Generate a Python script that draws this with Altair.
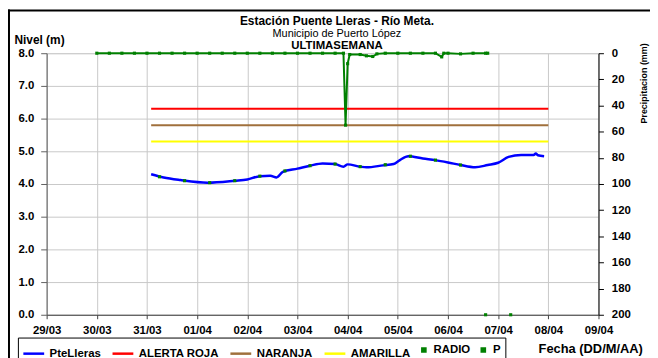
import altair as alt
import pandas as pd

# ---------------- data ----------------
SERIES = ["PteLleras", "ALERTA ROJA", "NARANJA", "AMARILLA", "RADIO", "P"]
COLORS = ["#0000ff", "#ff0000", "#a0703c", "#ffff00", "#008000", "#008000"]
SHAPES = ["stroke", "stroke", "stroke", "stroke", "square", "square"]
SIZES = [441, 441, 441, 441, 10, 10]

LEVEL_T = ["2012-03-31T02:00", "2012-03-31T08:00", "2012-03-31T16:00", "2012-04-01T05:00",
           "2012-04-01T18:00", "2012-04-02T00:00", "2012-04-02T06:00", "2012-04-02T11:00",
           "2012-04-02T14:00", "2012-04-02T17:00", "2012-04-03T00:00", "2012-04-03T06:00",
           "2012-04-03T12:00", "2012-04-03T18:00", "2012-04-03T22:00", "2012-04-04T00:00",
           "2012-04-04T06:00", "2012-04-04T09:00", "2012-04-04T17:00", "2012-04-04T22:00",
           "2012-04-05T01:00", "2012-04-05T05:00", "2012-04-05T12:00", "2012-04-05T18:00",
           "2012-04-06T00:00", "2012-04-06T06:00", "2012-04-06T13:00", "2012-04-06T19:00",
           "2012-04-07T00:00", "2012-04-07T05:00", "2012-04-07T11:00", "2012-04-07T17:00",
           "2012-04-07T18:00", "2012-04-07T19:00", "2012-04-07T22:00"]
LEVEL_V = [4.30, 4.20, 4.12, 4.04, 4.10, 4.14, 4.24, 4.25, 4.20, 4.37, 4.47, 4.56, 4.63,
           4.61, 4.53, 4.60, 4.53, 4.51, 4.57, 4.61, 4.73, 4.85, 4.78, 4.73, 4.66, 4.58,
           4.51, 4.58, 4.65, 4.83, 4.89, 4.89, 4.93, 4.88, 4.85]

RADIO_T = ["2012-03-31T06:00", "2012-03-31T18:00", "2012-04-01T06:00", "2012-04-01T18:00",
           "2012-04-02T06:00", "2012-04-02T18:00", "2012-04-03T06:00", "2012-04-03T18:00",
           "2012-04-04T06:00", "2012-04-04T18:00", "2012-04-05T06:00", "2012-04-05T18:00",
           "2012-04-06T06:00", "2012-04-06T18:00", "2012-04-07T06:00"]
RADIO_V = [4.22, 4.10, 4.04, 4.10, 4.24, 4.40, 4.56, 4.61, 4.53, 4.59, 4.85, 4.73, 4.58, 0.0, 0.0]

P_T = ["2012-03-30T00:00", "2012-03-30T06:00", "2012-03-30T12:00", "2012-03-30T18:00",
       "2012-03-31T00:00", "2012-03-31T06:00", "2012-03-31T12:00", "2012-03-31T18:00",
       "2012-04-01T00:00", "2012-04-01T06:00", "2012-04-01T12:00", "2012-04-01T18:00",
       "2012-04-02T00:00", "2012-04-02T06:00", "2012-04-02T12:00", "2012-04-02T18:00",
       "2012-04-03T00:00", "2012-04-03T06:00", "2012-04-03T12:00", "2012-04-03T18:00",
       "2012-04-03T22:00", "2012-04-03T23:00", "2012-04-04T00:00", "2012-04-04T01:00",
       "2012-04-04T06:00", "2012-04-04T09:00", "2012-04-04T12:00", "2012-04-04T14:00",
       "2012-04-04T18:00", "2012-04-05T00:00", "2012-04-05T06:00", "2012-04-05T12:00",
       "2012-04-05T18:00", "2012-04-05T21:00", "2012-04-05T22:00", "2012-04-06T00:00",
       "2012-04-06T06:00", "2012-04-06T12:00", "2012-04-06T18:00", "2012-04-06T19:00"]
P_V = [0, 0, 0, 0, 0, 0, 0, 0, 0, 0, 0, 0, 0, 0, 0, 0, 0, 0, 0, 0,
       0, 55, 8, 1, 1, 2, 2.5, 0.5, 0, 0, 0, 0, 0, 2.8, 0, 0, 0.5, 0, 0, 0]

THR_NAMES = ["ALERTA ROJA", "NARANJA", "AMARILLA"]
THR_V = [6.3, 5.8, 5.3]
THR_T = ["2012-03-31T02:00", "2012-04-08T00:00"]

TICK_DAYS = [(3, 29), (3, 30), (3, 31), (4, 1), (4, 2), (4, 3), (4, 4), (4, 5),
             (4, 6), (4, 7), (4, 8), (4, 9)]
LEVEL_TICKS = [0, 1, 2, 3, 4, 5, 6, 7, 8]
P_TICKS = [0, 20, 40, 60, 80, 100, 120, 140, 160, 180, 200]

TITLE_1 = "Estación Puente Lleras - Río Meta."
TITLE_2 = "Municipio de Puerto López"
TITLE_3 = "ULTIMASEMANA"

# ---------------- tables ----------------
level_df = pd.DataFrame({"t": LEVEL_T, "v": LEVEL_V, "s": "PteLleras"})
radio_df = pd.DataFrame({"t": RADIO_T, "v": RADIO_V, "s": "RADIO"})
p_df = pd.DataFrame({"t": P_T, "p": P_V, "s": "P"})
thr_rows = []
for name, val in zip(THR_NAMES, THR_V):
    for t in THR_T:
        thr_rows.append({"t": t, "v": val, "s": name})
thr_df = pd.DataFrame(thr_rows)

FONT = "Liberation Sans"
W, H = 557, 264

legend = alt.Legend(
    title=None, orient="none", legendX=-29, legendY=287, direction="horizontal",
    strokeColor="black", fillColor="white", padding=4,
    symbolStrokeWidth=2.5, labelFontSize=11.5, labelFontWeight="bold", labelFont=FONT,
    columnPadding=6, labelOffset=4, labelColor="black", symbolOpacity=1,
)
color = alt.Color("s:N", scale=alt.Scale(domain=SERIES, range=COLORS), legend=legend)
shape = alt.Shape("s:N", scale=alt.Scale(domain=SERIES, range=SHAPES), legend=legend)
size = alt.Size("s:N", scale=alt.Scale(type="ordinal", domain=SERIES, range=SIZES),
                legend=legend)

x = alt.X(
    "t:T",
    scale=alt.Scale(domain=[alt.DateTime(year=2012, month=3, date=29),
                            alt.DateTime(year=2012, month=4, date=9)]),
    axis=alt.Axis(
        values=[alt.DateTime(year=2012, month=m, date=d) for m, d in TICK_DAYS],
        format="%d/%m", labelFontWeight="bold", labelFontSize=11.5, labelFont=FONT,
        labelColor="black", tickSize=4, labelPadding=6, tickColor="#404040",
        domainColor="#404040", grid=True, gridColor="#c8c8c8",
        title="Fecha (DD/M/AA)", titleFontSize=13, titleFontWeight="bold",
        titleFont=FONT, titleColor="black", titleAnchor="start", titleAlign="left",
        titleX=496, titleY=34, titleBaseline="middle", labelFlush=False,
    ),
)
y_level = alt.Y(
    "v:Q",
    scale=alt.Scale(domain=[0, 8], nice=False),
    axis=alt.Axis(
        values=LEVEL_TICKS, format=".1f", labelFontWeight="bold", labelFontSize=11.5,
        labelFont=FONT, labelColor="black", tickSize=6, labelPadding=7,
        tickColor="#606060", domainColor="#606060", grid=True, gridColor="#c8c8c8",
        title="Nivel (m)", titleAngle=0, titleAlign="left", titleX=-33, titleY=-10,
        titleBaseline="alphabetic", titleFontWeight="bold", titleFontSize=12,
        titleFont=FONT, titleColor="black", labelFlush=False,
    ),
)
y_p = alt.Y(
    "p:Q",
    scale=alt.Scale(domain=[0, 200], reverse=True, nice=False),
    axis=alt.Axis(
        orient="right", values=P_TICKS, labelFontWeight="bold", labelFontSize=11.5,
        labelFont=FONT, labelColor="black", tickSize=5, labelPadding=8,
        tickColor="black", domainColor="black", grid=False,
        title="Precipitacion (mm)", titleAngle=270, titleX=45, titleY=30,
        titleAlign="center", titleBaseline="middle", titleFontSize=9,
        titleFontWeight="bold", titleFont=FONT, titleColor="black", labelFlush=False,
    ),
)

thr = alt.Chart(thr_df).mark_line(strokeWidth=2).encode(x=x, y=y_level, color=color)
lvl = alt.Chart(level_df).mark_line(strokeWidth=2.5, interpolate="monotone").encode(
    x=x, y=y_level, color=color)
rad = alt.Chart(radio_df).mark_point(filled=True, opacity=1).encode(
    x=x, y=y_level, color=color, shape=shape, size=size)

one = alt.Data(values=[{}])
t1 = alt.Chart(one).mark_text(font=FONT, fontSize=12, fontWeight="bold", color="black",
                              align="center", baseline="alphabetic").encode(
    x=alt.value(293), y=alt.value(-28.5), text=alt.value(TITLE_1))
t2 = alt.Chart(one).mark_text(font=FONT, fontSize=11, color="black",
                              align="center", baseline="alphabetic").encode(
    x=alt.value(293), y=alt.value(-16), text=alt.value(TITLE_2))
t3 = alt.Chart(one).mark_text(font=FONT, fontSize=11.5, fontWeight="bold", color="black",
                              align="center", baseline="alphabetic").encode(
    x=alt.value(293), y=alt.value(-4.5), text=alt.value(TITLE_3))
frame_l = alt.Chart(one).mark_rule(color="black", strokeWidth=2).encode(
    x=alt.value(-38), y=alt.value(-44), y2=alt.value(310))
frame_t = alt.Chart(one).mark_rule(color="black", strokeWidth=2).encode(
    x=alt.value(-39), x2=alt.value(620), y=alt.value(-43))

left = alt.layer(thr, lvl, rad, t1, t2, t3, frame_l, frame_t)

p_line = alt.Chart(p_df).mark_line(strokeWidth=2).encode(x=x, y=y_p, color=color)
p_pts = alt.Chart(p_df).mark_point(filled=True, opacity=1).encode(
    x=x, y=y_p, color=color, shape=shape, size=size)
right = alt.layer(p_line, p_pts)

chart = alt.layer(left, right).resolve_scale(y="independent").properties(
    width=W, height=H,
    autosize=alt.AutoSizeParams(type="none"),
    padding={"left": 39, "top": 44, "right": 52, "bottom": 42},
    background="white",
).configure_view(strokeWidth=0).configure(font=FONT)

chart.save("out.html", embed_options={"renderer": "svg", "actions": False})
